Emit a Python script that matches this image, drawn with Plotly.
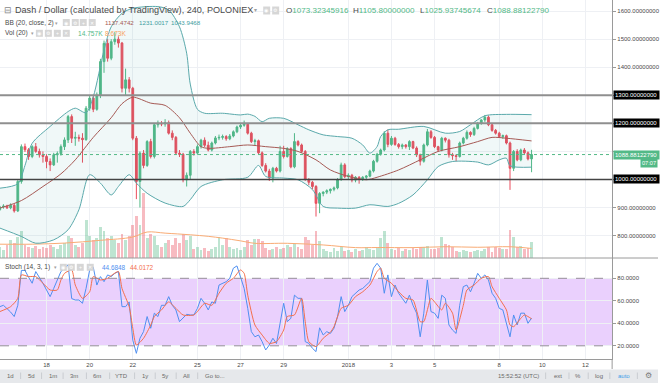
import plotly.graph_objects as go
import pandas as pd

# ---------------- data ----------------
candle_start = "2017-12-15 20:00"   # 240-minute candles

opens = [893, 902, 905, 899, 908, 888, 993, 1117, 1106, 1082,
         1117, 1100, 1088, 1082, 1064, 1052, 1088, 1092, 1117, 1141,
         1224, 1147, 1150, 1147, 1142, 1254, 1290, 1250, 1300, 1420,
         1485, 1432, 1491, 1500, 1486, 1325, 1355, 1325, 1147, 993,
         1094, 1050, 1135, 1082, 1195, 1200, 1198, 1202, 1165, 1150,
         1094, 1090, 999, 1015, 1100, 1094, 1117, 1140, 1122, 1105,
         1130, 1148, 1150, 1153, 1145, 1155, 1170, 1187, 1193, 1197,
         1165, 1135, 1138, 1095, 1050, 1030, 1005, 1040, 1030, 1100,
         1082, 1110, 1045, 1135, 1123, 1100, 1000, 990, 975, 915,
         950, 955, 960, 965, 970, 1000, 1052, 1010, 1015, 998,
         1008, 1000, 1008, 1012, 1030, 1065, 1090, 1105, 1165, 1125,
         1147, 1125, 1117, 1123, 1117, 1135, 1112, 1088, 1065, 1123,
         1170, 1150, 1117, 1105, 1147, 1140, 1088, 1085, 1082, 1130,
         1147, 1168, 1160, 1182, 1200, 1212, 1222, 1195, 1175, 1165,
         1153, 1156, 1130, 1040, 1100, 1070, 1105, 1095, 1073.32345916]
highs = [906, 912, 910, 915, 914, 1000, 1125, 1128, 1112, 1122,
         1130, 1110, 1100, 1090, 1075, 1095, 1100, 1125, 1150, 1230,
         1232, 1170, 1160, 1165, 1262, 1300, 1298, 1310, 1430, 1495,
         1500, 1500, 1525, 1510, 1490, 1395, 1365, 1330, 1155, 1100,
         1105, 1140, 1145, 1200, 1210, 1208, 1215, 1210, 1175, 1155,
         1105, 1095, 1025, 1105, 1108, 1125, 1145, 1150, 1135, 1135,
         1155, 1160, 1160, 1158, 1162, 1175, 1192, 1200, 1210, 1200,
         1170, 1145, 1142, 1100, 1058, 1038, 1045, 1045, 1120, 1120,
         1115, 1115, 1165, 1140, 1128, 1105, 1005, 995, 980, 955,
         958, 965, 968, 975, 1005, 1060, 1058, 1022, 1020, 1012,
         1012, 1012, 1016, 1035, 1070, 1095, 1110, 1172, 1178, 1155,
         1152, 1130, 1128, 1126, 1140, 1138, 1118, 1092, 1128, 1180,
         1176, 1155, 1120, 1152, 1150, 1145, 1095, 1090, 1135, 1152,
         1175, 1172, 1188, 1205, 1215, 1230, 1228, 1200, 1180, 1170,
         1160, 1160, 1135, 1105, 1108, 1110, 1112, 1100, 1105.8]
lows = [888, 896, 895, 894, 882, 884, 985, 1098, 1070, 1076,
        1095, 1078, 1060, 1040, 1030, 1048, 1060, 1085, 1105, 1130,
        1130, 1120, 1135, 1060, 1138, 1245, 1240, 1245, 1290, 1380,
        1420, 1425, 1480, 1470, 1310, 1300, 1310, 1140, 930, 900,
        1040, 1045, 1075, 1075, 1185, 1190, 1188, 1160, 1140, 1088,
        1080, 990, 975, 1000, 1085, 1088, 1110, 1115, 1100, 1100,
        1125, 1140, 1142, 1138, 1140, 1150, 1165, 1180, 1188, 1160,
        1130, 1120, 1090, 1045, 1025, 995, 990, 1025, 1025, 1075,
        1078, 1040, 1040, 1118, 1095, 995, 980, 965, 868, 880,
        940, 948, 950, 958, 965, 995, 1005, 1000, 990, 990,
        985, 995, 1000, 1008, 1025, 1060, 1085, 1100, 1115, 1120,
        1120, 1110, 1108, 1110, 1105, 1108, 1080, 1050, 1060, 1118,
        1145, 1112, 1098, 1100, 1132, 1078, 1070, 1065, 1078, 1125,
        1142, 1152, 1155, 1178, 1195, 1205, 1190, 1170, 1160, 1148,
        1145, 1125, 963, 1030, 1065, 1065, 1090, 1068, 1025.93745674]
closes = [902, 905, 899, 908, 888, 993, 1117, 1106, 1082, 1117,
          1100, 1088, 1082, 1064, 1052, 1088, 1092, 1117, 1141, 1224,
          1147, 1150, 1147, 1142, 1254, 1290, 1250, 1300, 1420, 1485,
          1432, 1491, 1500, 1486, 1325, 1355, 1325, 1147, 993, 1094,
          1050, 1135, 1082, 1195, 1200, 1198, 1202, 1165, 1150, 1094,
          1090, 999, 1015, 1100, 1094, 1117, 1140, 1122, 1105, 1130,
          1148, 1150, 1153, 1145, 1155, 1170, 1187, 1193, 1197, 1165,
          1135, 1138, 1095, 1050, 1030, 1005, 1040, 1030, 1100, 1082,
          1110, 1045, 1135, 1123, 1100, 1000, 990, 975, 915, 950,
          955, 960, 965, 970, 1000, 1052, 1010, 1015, 998, 1008,
          1000, 1008, 1012, 1030, 1065, 1090, 1105, 1165, 1125, 1147,
          1125, 1117, 1123, 1117, 1135, 1112, 1088, 1065, 1123, 1170,
          1150, 1117, 1105, 1147, 1140, 1088, 1085, 1082, 1130, 1147,
          1168, 1160, 1182, 1200, 1212, 1222, 1195, 1175, 1165, 1153,
          1156, 1130, 1040, 1100, 1070, 1105, 1095, 1073.32345916, 1088.8812279]
volumes_k = [10, 7, 12, 16, 14, 19, 24, 12, 10, 9,
             11, 8, 10, 9, 12, 10, 8, 12, 14, 20,
             18, 12, 10, 14, 34, 20, 16, 18, 28, 24,
             18, 20, 16, 14, 22, 16, 20, 30, 38, 30,
             59, 18, 22, 20, 12, 10, 14, 16, 12, 18,
             14, 22, 16, 20, 8, 10, 7, 9, 6, 8,
             10, 19, 12, 18, 10, 8, 9, 7, 10, 16,
             12, 17, 17, 15, 9, 7, 8, 10, 8, 9,
             12, 10, 13, 10, 8, 19, 16, 12, 24, 15,
             8, 6, 5, 9, 6, 10, 6, 7, 5, 8,
             6, 7, 10, 8, 7, 9, 18, 24, 14, 8,
             7, 9, 6, 8, 7, 9, 8, 10, 10, 11,
             8, 8, 9, 19, 13, 12, 10, 6, 5, 7,
             6, 5, 6, 7, 6, 8, 10, 5, 10, 9,
             8, 8, 25, 19, 10, 11, 8, 9, 14.757]

# Volume MA(20), read at some candles (thousands)
vol_ma_idx = [0, 9, 18, 28, 37, 41, 46, 53, 58, 62, 67, 71, 80, 90, 99, 105, 115, 124, 133, 142, 148]
vol_ma_k = [12.5, 12.5, 13.5, 16, 19, 23.5, 22.5, 21, 19.6, 18, 15.5, 13.3, 13.3, 11.8, 9.4, 9.5, 9.4, 10.2, 9.7, 10.2, 8.673]

# Bollinger Bands (20, close, 2), read at some candles
bb_up_idx = [0, 5, 7, 9, 14, 19, 21, 24, 26, 29, 31, 34, 37, 44, 47, 50, 52, 53, 55, 57, 62, 67, 69, 71, 73, 75,
             79, 83, 86, 90, 94, 98, 101, 103, 105, 106, 108, 111, 118, 124, 128, 131, 135, 141, 148]
bb_upper = [969, 985, 1050, 1129, 1189, 1242, 1254, 1238, 1295, 1461, 1544, 1592, 1610, 1616, 1604, 1544, 1450,
            1340, 1250, 1236, 1236, 1230, 1233, 1225, 1206, 1218, 1218, 1195, 1177, 1159, 1153, 1147, 1123, 1094,
            1117, 1153, 1177, 1179, 1189, 1165, 1171, 1195, 1227, 1232, 1231.0017]
bb_mid_idx = [0, 6, 12, 17, 21, 26, 31, 34, 37, 42, 46, 50, 53, 56, 58, 64, 69, 74, 79, 83, 88, 92, 97, 102,
              105, 111, 117, 122, 128, 133, 137, 141, 148]
bb_basis = [898, 925, 975, 1020, 1070, 1150, 1220, 1270, 1293, 1272, 1264, 1220, 1165, 1117, 1111, 1117, 1123,
            1117, 1111, 1100, 1070, 1034, 1011, 999, 1008, 1034, 1070, 1100, 1117, 1135, 1150, 1147, 1137.4742]
bb_lo_idx = [0, 6, 10, 15, 19, 22, 25, 28, 31, 33, 36, 38, 41, 46, 51, 53, 56, 62, 69, 72, 74, 79, 83, 87, 90,
             94, 99, 103, 108, 111, 115, 119, 122, 126, 133, 136, 139, 141, 142, 148]
bb_lower = [827, 797, 773, 785, 821, 892, 1017, 987, 945, 975, 1017, 987, 951, 916, 904, 928, 975, 999, 1008,
            1050, 1011, 1005, 999, 964, 904, 898, 898, 910, 904, 915, 945, 999, 1046, 1064, 1062, 1052, 1070,
            1076, 1049, 1043.9468]

# Stochastic (14, 3, 1)
stoch_k = [54.8, 56, 53, 50, 46, 56, 87, 87, 81, 75.6,
           86, 81, 75.6, 69.6, 63.7, 71, 78.5, 86, 89, 92,
           62, 60.7, 60.7, 57.8, 71, 87.4, 90, 74, 81.5, 77,
           83, 81.5, 84.4, 86, 54.8, 54.8, 59, 25, 13.3, 26.7,
           32.6, 46, 35.6, 49, 46, 56, 56, 63.7, 56, 51.9,
           41.5, 45, 48, 47.4, 47.4, 53.3, 62.2, 57.8, 51.9, 59,
           57.8, 74, 75.6, 77, 80, 89, 91, 81.5, 71, 53.3,
           32.6, 28, 29.6, 23.7, 16.3, 20.7, 26.7, 22, 41.5, 57.8,
           41.5, 44.4, 65, 62.2, 62.2, 23.7, 22.2, 17.8, 14.8, 36,
           29.6, 32.6, 31, 35.6, 46, 63.7, 50.4, 56, 63.7, 66.7,
           69.6, 71, 74, 77, 89, 93.3, 89, 66.7, 83, 63.7,
           74, 66.7, 62.2, 57.8, 65, 56, 49, 28, 49, 78.5,
           50.4, 49, 44.4, 65, 62.2, 38.5, 34, 31, 56, 72.6,
           74, 68, 75.6, 84.4, 80, 83, 78.5, 66.7, 62.2, 53.3,
           51.9, 40, 28, 47.4, 38.5, 49, 49, 40, 44.6848]
stoch_d_idx = [0, 3, 5, 6, 8, 10, 12, 14, 16, 17, 18, 20, 21, 23, 25, 26, 28, 30, 31, 33,
               34, 36, 37, 38, 40, 42, 43, 45, 47, 49, 51, 54, 55, 57, 59, 61, 63, 65, 67, 68,
               69, 71, 73, 75, 77, 79, 80, 82, 84, 85, 86, 88, 90, 92, 93, 95, 97, 99, 101, 103,
               105, 106, 107, 109, 111, 113, 115, 117, 118, 120, 121, 123, 124, 126, 127, 129, 130, 132, 134, 136,
               137, 139, 141, 142, 143, 145, 146, 147, 148]
stoch_d = [50.4, 54.8, 62.2, 83, 81.5, 81.5, 75.6, 69.6, 69.6, 78.5, 84.4, 87.4, 74, 62.2, 68, 81.5, 78.5, 80, 82.4, 86,
           71, 54.8, 35.6, 20.7, 26.7, 38.5, 46, 51.9, 59, 53.3, 47.4, 47.4, 50.4, 57.8, 56, 66.7, 75.6, 80, 87.4, 84.4,
           65, 38.5, 29.6, 22.2, 23.7, 34, 46, 47.4, 62.2, 41.5, 23.7, 19.3, 26.7, 32, 37, 53.3, 56, 63.7, 68, 74,
           86, 89, 80, 75.6, 68, 62.2, 60.7, 41.5, 41.5, 62.2, 59, 51.9, 57.8, 49, 34, 56, 69.6, 74, 80, 81.5,
           72.6, 62.2, 51.9, 38.5, 37, 44.4, 47.4, 46, 44.0172]

price_levels = [1300, 1200, 1000]
price_ticks = [800, 900, 1000, 1100, 1200, 1300, 1400, 1500, 1600]
stoch_ticks = [20, 40, 60, 80]
date_ticks = ["2017-12-18", "2017-12-20", "2017-12-22", "2017-12-25", "2017-12-27", "2017-12-29",
              "2018-01-01", "2018-01-03", "2018-01-05", "2018-01-08", "2018-01-10", "2018-01-12"]
date_labels = ["18", "20", "22", "25", "27", "29", "2018", "3", "5", "8", "10", "12"]

# ---------------- layout helpers ----------------
W, H = 660, 383
AXX = 614          # right price-axis x (px)
MAIN_BOT = 258     # bottom of price pane (px)
STO_BOT = 359      # bottom of stoch pane (px)
def px(x): return x / W
def py(y): return 1 - y / H

FONT = "Liberation Sans, Arial, sans-serif"
UP = "#53b987"
DN = "#eb4d5c"
BAND = "#5aa9ab"
BASIS = "#a65a55"
KCOL = "#4f8ff0"
DCOL = "#f36f4c"
GRID = "#eef0f4"
TXT = "#4a4a4a"

times = pd.date_range(candle_start, periods=len(closes), freq="4h")

fig = go.Figure()

# volume (base axis y, drawn beneath price traces)
vol_colors = ["rgba(83,185,135,0.38)" if c >= o else "rgba(235,77,92,0.38)" for o, c in zip(opens, closes)]
fig.add_trace(go.Bar(x=times, y=volumes_k, marker=dict(color=vol_colors, line=dict(width=0)),
                     width=4 * 3600 * 1000 * 0.8, xaxis="x", yaxis="y"))
fig.add_trace(go.Scatter(x=times[vol_ma_idx], y=vol_ma_k, mode="lines",
                         line=dict(color="#f9ab74", width=1, shape="spline"), xaxis="x", yaxis="y"))

# Bollinger lines; the upper line fills down to the lower line
fig.add_trace(go.Scatter(x=times[bb_lo_idx], y=bb_lower, mode="lines",
                         line=dict(color=BAND, width=1, shape="spline", smoothing=0.8), xaxis="x", yaxis="y2"))
fig.add_trace(go.Scatter(x=times[bb_up_idx], y=bb_upper, mode="lines", fill="tonexty",
                         fillcolor="rgba(40,150,150,0.07)",
                         line=dict(color=BAND, width=1, shape="spline", smoothing=0.8), xaxis="x", yaxis="y2"))
fig.add_trace(go.Scatter(x=times[bb_mid_idx], y=bb_basis, mode="lines",
                         line=dict(color=BASIS, width=1, shape="spline", smoothing=0.8), xaxis="x", yaxis="y2"))

# candles
fig.add_trace(go.Candlestick(x=times, open=opens, high=highs, low=lows, close=closes,
                             increasing=dict(line=dict(color=UP, width=1), fillcolor=UP),
                             decreasing=dict(line=dict(color=DN, width=1), fillcolor=DN),
                             whiskerwidth=0, xaxis="x", yaxis="y2"))

# stochastic
fig.add_trace(go.Scatter(x=times, y=stoch_k, mode="lines", line=dict(color=KCOL, width=1),
                         xaxis="x2", yaxis="y3"))
fig.add_trace(go.Scatter(x=times[stoch_d_idx], y=stoch_d, mode="lines",
                         line=dict(color=DCOL, width=1, shape="spline", smoothing=0.6), xaxis="x2", yaxis="y3"))

t0 = pd.Timestamp(candle_start) + pd.Timedelta(minutes=11)
t1 = pd.Timestamp("2018-01-13 05:42")

shapes = []
# stoch band
shapes.append(dict(type="rect", xref="paper", yref="y3", x0=0, x1=px(AXX), y0=20, y1=80,
                   fillcolor="#ead0fd", line=dict(width=0), layer="below"))
for lv in (80, 20):
    shapes.append(dict(type="line", xref="paper", yref="y3", x0=0, x1=px(AXX), y0=lv, y1=lv,
                       line=dict(color="#958a9a", width=1, dash="dash")))
# price levels
for lv in price_levels:
    shapes.append(dict(type="line", xref="paper", yref="y2", x0=0, x1=px(AXX), y0=lv, y1=lv,
                       line=dict(color="#444444" if lv == 1000 else "#8f8f8f", width=1.5 if lv == 1000 else 2)))
# last price line
shapes.append(dict(type="line", xref="paper", yref="y2", x0=0, x1=px(AXX), y0=closes[-1], y1=closes[-1],
                   line=dict(color=UP, width=1, dash="dot")))
# pane separator & axis extension
shapes.append(dict(type="line", xref="paper", yref="paper", x0=0, x1=1, y0=py(MAIN_BOT), y1=py(MAIN_BOT),
                   line=dict(color="#9a9a9a", width=1)))
shapes.append(dict(type="line", xref="paper", yref="paper", x0=px(AXX), x1=px(AXX), y0=py(STO_BOT), y1=py(369),
                   line=dict(color="#9a9a9a", width=1)))
# bottom toolbar
shapes.append(dict(type="rect", xref="paper", yref="paper", x0=0, x1=1, y0=0, y1=py(369.5),
                   fillcolor="#e6e8eb", line=dict(width=0)))
for sx in [20.7, 41.7, 63.3, 86.7, 110, 135, 155.7, 176.7, 198.3, 547.3, 570.7, 590, 611.7, 639.3]:
    shapes.append(dict(type="line", xref="paper", yref="paper", x0=px(sx), x1=px(sx), y0=py(372.5), y1=py(379),
                       line=dict(color="#c9ccd1", width=1)))

annotations = []
def txt(x, y, text, size, color=TXT, xanchor="left", **kw):
    annotations.append(dict(x=px(x), y=py(y), xref="paper", yref="paper", text=text, showarrow=False,
                            xanchor=xanchor, yanchor="middle", font=dict(family=FONT, size=size, color=color), **kw))

def icon_boxes(xs, yc, h=7, w=7):
    glyphs = ["◉", "⚙", "+", "✕"]
    for k, x in enumerate(xs):
        shapes.append(dict(type="rect", xref="paper", yref="paper", x0=px(x), x1=px(x + w),
                           y0=py(yc + h / 2), y1=py(yc - h / 2), fillcolor="#d6d6d6", line=dict(width=0)))
        txt(x + w / 2, yc, glyphs[k % 4], 5, "#ffffff", xanchor="center")

# header line 1
txt(2, 10.5, "⊟", 9, "#8a8a8a")
txt(13, 10.5, "Dash / Dollar (calculated by TradingView), 240, POLONIEX", 9.1, TXT)
txt(253, 10.5, "▾", 6, "#a0a0a0")
icon_boxes([264, 273], 10.5, h=8, w=7)
ohlc = [("O", opens[-1], 285), ("H", highs[-1], 352), ("L", lows[-1], 419), ("C", closes[-1], 486)]
for lab, val, x in ohlc:
    txt(x, 10.5, f"{lab}<span style='color:{UP}'>{val:.8f}</span>", 8.1, TXT)
# header line 2 (BB)
txt(3, 22.5, "BB (20, close, 2)", 6.6, TXT)
txt(53, 22.5, "▾", 5, "#a0a0a0")
icon_boxes([63, 72, 80, 89], 22.5)
txt(103, 22.5, f"{bb_basis[-1]:.4f}", 6.2, BASIS)
txt(137, 22.5, f"{bb_upper[-1]:.4f}", 6.2, "#3f9e9f")
txt(170, 22.5, f"{bb_lower[-1]:.4f}", 6.2, "#3f9e9f")
# header line 3 (Vol)
txt(3, 33.3, "Vol (20)", 6.6, TXT)
txt(29, 33.3, "▾", 5, "#a0a0a0")
icon_boxes([36, 45, 54, 63], 33.3)
txt(76, 33.3, f"{volumes_k[-1]:.3f}K", 6.6, UP)
txt(103, 33.3, f"{vol_ma_k[-1]:.3f}K", 6.6, "#f7a35c")
# stoch legend
txt(3, 267.3, "Stoch (14, 3, 1)", 6.6, TXT)
txt(52, 267.3, "▾", 5, "#a0a0a0")
icon_boxes([60, 68, 77, 87], 267.3)
txt(100, 267.3, f"{stoch_k[-1]:.4f}", 6.4, KCOL)
txt(128, 267.3, f"{stoch_d[-1]:.4f}", 6.4, DCOL)

# axis price labels in boxes
for lv in price_levels:
    annotations.append(dict(x=px(AXX + 0.5), y=lv, xref="paper", yref="y2", text=f"{lv:.8f}", showarrow=False,
                            xanchor="left", yanchor="middle", align="left", bgcolor="#000000", borderpad=1,
                            width=43, font=dict(family=FONT, size=6, color="#ffffff")))
annotations.append(dict(x=px(AXX + 0.5), y=closes[-1], xref="paper", yref="y2", text=f"{closes[-1]:.8f}",
                        showarrow=False, xanchor="left", yanchor="middle", align="left", bgcolor=UP, borderpad=1,
                        width=43, font=dict(family=FONT, size=6, color="#ffffff")))
txt(659.5, 163.3, "07:07", 5.6, "#ffffff", xanchor="right", bgcolor=UP, borderpad=1)

# toolbar texts
for x, t in [(10.7, "1d"), (31.7, "5d"), (52.7, "1m"), (74, "3m"), (97.3, "6m"), (121.7, "YTD"),
             (145, "1y"), (165.7, "5y"), (187.3, "All"), (216, "Go to..."),
             (520, "15:52:52 (UTC)"), (559.3, "ext"), (579.3, "%"), (600.7, "log")]:
    txt(x, 375.8, t, 6, "#6a6a6a", xanchor="center")
txt(625.7, 375.8, "auto", 6, "#3d9ee9", xanchor="center")
txt(650, 375.8, "⚙", 8, "#7a7a7a", xanchor="center")

# tick labels hidden where a boxed label sits on the axis
covered = set(price_levels) | {1100}
price_ticktext = ["" if v in covered else f"{v:.8f}" for v in price_ticks]

axis_common = dict(showgrid=True, gridcolor=GRID, gridwidth=1, zeroline=False)
fig.update_layout(
    width=W, height=H, margin=dict(l=0, r=0, t=0, b=0),
    paper_bgcolor="#ffffff", plot_bgcolor="#ffffff", showlegend=False, hovermode=False,
    font=dict(family=FONT, size=6, color=TXT), barmode="overlay", bargap=0,
    xaxis=dict(domain=[0, px(AXX)], range=[t0, t1], anchor="y", tickvals=date_ticks, showticklabels=False,
               ticks="", rangeslider=dict(visible=False), showline=False, **axis_common),
    xaxis2=dict(domain=[0, px(AXX)], range=[t0, t1], matches="x", anchor="y3", tickvals=date_ticks,
                ticktext=date_labels, ticks="", tickfont=dict(size=6, color=TXT), showline=True,
                linecolor="#9a9a9a", linewidth=1, **axis_common),
    yaxis=dict(domain=[py(MAIN_BOT), 1], range=[0, 233.5], visible=False, fixedrange=True),
    yaxis2=dict(overlaying="y", side="right", anchor="x", range=[720.3, 1639.5], tickvals=price_ticks,
                ticktext=price_ticktext, tickfont=dict(size=6, color=TXT),
                ticks="outside", ticklen=3, tickcolor="#9a9a9a", showline=True, linecolor="#9a9a9a",
                linewidth=1, **axis_common),
    yaxis3=dict(domain=[py(STO_BOT), py(MAIN_BOT)], anchor="x2", side="right", range=[8.27, 98.04],
                tickvals=stoch_ticks, ticktext=[f"{v:.4f}" for v in stoch_ticks],
                tickfont=dict(size=6, color=TXT), ticks="outside", ticklen=3, tickcolor="#9a9a9a",
                showline=True, linecolor="#9a9a9a", linewidth=1, **axis_common),
    shapes=shapes, annotations=annotations,
)

fig.write_html("out.html", config={"displayModeBar": False, "staticPlot": True},
               post_script="document.body.style.margin='0';document.body.style.overflow='hidden';")
